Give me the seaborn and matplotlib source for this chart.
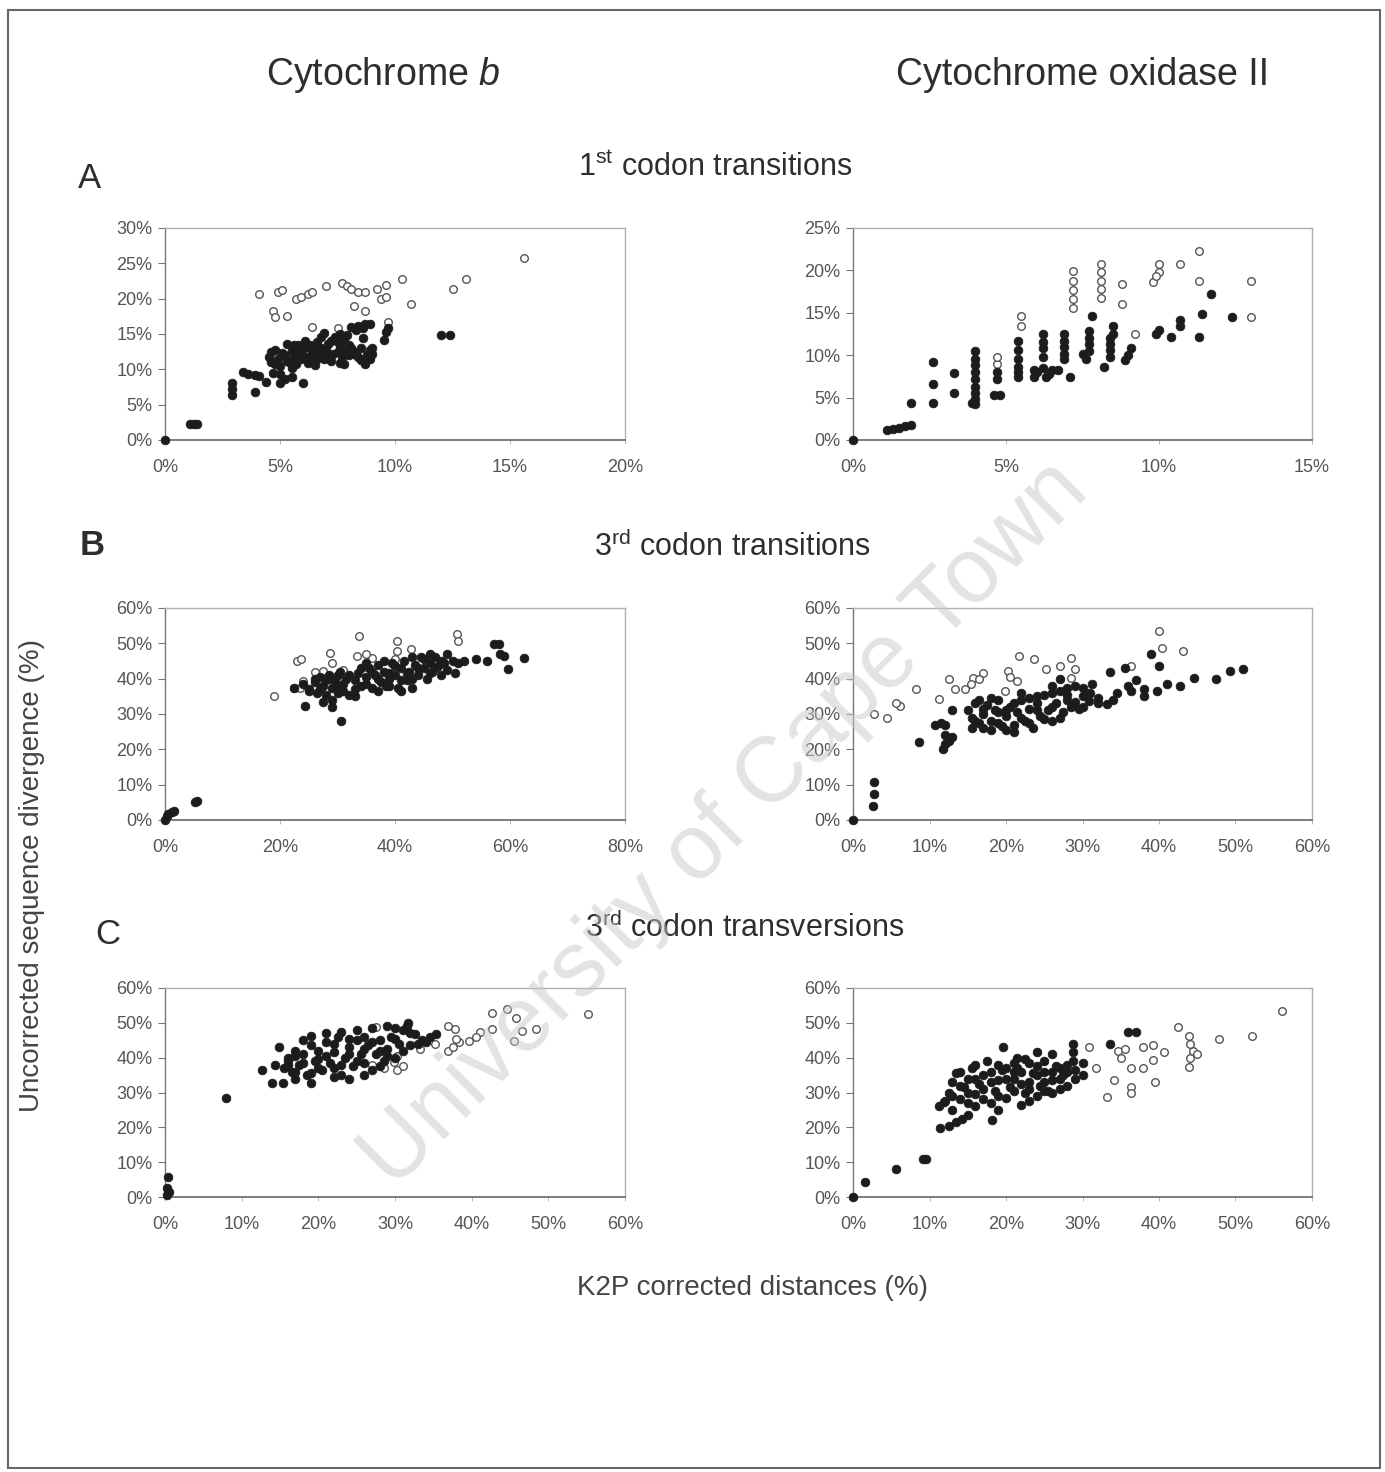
import numpy as np
import pandas as pd
import matplotlib
matplotlib.use("Agg")
import matplotlib.pyplot as plt
import seaborn as sns
from matplotlib.ticker import PercentFormatter, MultipleLocator
from matplotlib.patches import Rectangle

# ---------------- data (values in %) ----------------
# Panel A left: Cytochrome b, 1st codon transitions
cb1_fill_x = [0, 1.1, 1.25, 1.4, 2.9, 2.9, 2.9, 3.4, 3.6, 3.9, 4.1, 3.9, 4.4, 5.0, 5.0, 5.5, 6.0, 5.7,
              4.5, 4.6, 4.8, 4.9, 5.0, 5.2, 5.3, 5.4, 5.5, 5.6, 5.8, 5.9, 6.0, 6.1, 6.2, 6.3, 6.4, 6.5, 6.5,
              6.6, 6.7, 6.8, 6.9, 7.0, 7.1, 7.2, 7.3, 7.4, 7.5, 7.6, 7.7, 7.8, 7.8, 7.9, 8.0, 8.1, 8.2, 8.3,
              8.4, 8.5, 8.6, 8.7, 8.7, 8.8, 8.9, 9.0, 9.5, 9.6, 9.7, 12.0, 12.4, 5.2, 4.7,
              4.6, 4.8, 5.1, 5.3, 5.5, 5.6, 5.8, 6.0, 6.2, 6.3, 6.6, 6.8, 7.0, 7.2, 7.3, 7.5, 7.6, 7.8,
              8.0, 8.1, 8.3, 8.5, 8.6, 8.9, 9.0, 6.9, 7.6, 8.4, 8.9, 5.9]
cb1_fill_y = [0, 2.3, 2.3, 2.3, 6.3, 7.2, 8.0, 9.6, 9.4, 9.2, 9.0, 6.8, 8.2, 8.0, 9.4, 8.9, 8.0, 10.8,
              11.7, 11.0, 12.7, 11.5, 10.5, 12.0, 13.6, 11.0, 12.8, 13.5, 12.2, 11.4, 13.0, 14.0, 13.1, 11.8, 12.5, 12.7, 10.6,
              13.8, 12.0, 14.6, 11.5, 12.8, 13.6, 11.2, 14.2, 14.6, 12.4, 13.2, 11.8, 12.7, 10.8, 14.8, 13.5, 16.0, 12.2, 15.5,
              11.7, 13.0, 15.8, 16.4, 10.8, 12.0, 12.7, 13.0, 14.2, 15.3, 15.8, 14.8, 14.8, 8.6, 9.5,
              12.5, 10.8, 12.3, 11.2, 10.2, 11.9, 13.5, 12.0, 10.9, 13.4, 11.5, 13.0, 11.8, 14.0, 12.2, 13.8, 10.9, 14.2,
              12.0, 13.0, 12.5, 11.3, 14.5, 11.5, 12.2, 15.2, 15.0, 16.2, 16.4, 12.8]
cb1_open_x = [4.1, 4.9, 5.1, 5.7, 5.9, 6.2, 6.4, 7.0, 7.7, 7.9, 8.1, 8.4, 8.7, 9.2, 9.6, 9.4, 9.6, 10.3, 10.7,
              12.5, 13.1, 15.6, 4.7, 4.8, 5.3, 8.2, 8.7, 9.7, 6.4, 7.5]
cb1_open_y = [20.7, 21.0, 21.2, 20.0, 20.3, 20.6, 21.0, 21.8, 22.2, 21.8, 21.4, 21.0, 20.9, 21.4, 22.0, 20.0, 20.3, 22.8, 19.3,
              21.4, 22.8, 25.8, 18.3, 17.4, 17.5, 19.0, 18.3, 16.7, 16.0, 15.8]

# Panel A right: Cytochrome oxidase II, 1st codon transitions
co1_fill_x = [0, 1.1, 1.3, 1.5, 1.7, 1.9, 1.9, 2.6, 2.6, 2.6, 3.3, 3.3, 4.0, 4.0, 4.0, 4.0, 4.0, 4.0, 4.0, 4.0,
              3.9, 4.6, 4.8, 4.7, 4.7, 5.4, 5.4, 5.4, 5.4, 5.4, 5.9, 5.9, 6.2, 6.2, 6.2, 6.2, 6.3, 6.5, 6.7,
              6.9, 6.9, 6.9, 6.9, 7.1, 7.5, 7.6, 7.7, 7.7, 7.7, 7.8, 8.2, 8.4, 8.4, 8.4, 8.5, 8.5, 8.9, 9.0,
              9.1, 9.9, 10.0, 10.4, 10.7, 10.7, 11.3, 11.4, 11.7, 12.4,
              4.0, 5.4, 6.2, 6.0, 6.4, 6.9, 7.7, 8.4]
co1_fill_y = [0, 1.2, 1.3, 1.4, 1.6, 1.8, 4.4, 9.2, 6.6, 4.4, 5.5, 7.9, 4.2, 4.8, 5.5, 6.3, 7.2, 8.0, 8.8, 10.5,
              4.4, 5.3, 5.3, 8.0, 7.2, 7.4, 8.6, 9.6, 10.6, 11.7, 8.2, 7.4, 9.8, 10.8, 11.6, 12.5, 7.4, 8.2, 8.2,
              10.2, 11.0, 11.7, 12.5, 7.4, 10.2, 9.6, 11.3, 12.0, 12.9, 14.6, 8.6, 9.8, 11.3, 12.0, 12.5, 13.5, 9.4, 10.0,
              10.9, 12.5, 13.0, 12.1, 13.5, 14.1, 12.1, 14.8, 17.2, 14.5,
              9.6, 8.0, 8.5, 8.0, 7.8, 9.5, 10.5, 10.6]
co1_open_x = [5.5, 5.5, 4.7, 4.7, 7.2, 7.2, 7.2, 7.2, 7.2, 8.1, 8.1, 8.1, 8.1, 8.1, 8.8, 8.8, 9.2, 9.8, 10.0, 10.0,
              9.9, 10.7, 11.3, 11.3, 13.0, 13.0]
co1_open_y = [13.5, 14.6, 9.0, 9.8, 15.6, 16.6, 17.7, 18.8, 19.9, 16.8, 17.8, 18.8, 19.8, 20.7, 16.0, 18.4, 12.5, 18.6, 19.8, 20.7,
              19.3, 20.7, 22.3, 18.7, 18.7, 14.5]

# Panel B left: Cytochrome b, 3rd codon transitions
cb3s_fill_x = [0, 0.3, 0.6, 1.2, 1.5, 5.2, 5.6, 24.4, 29.0, 30.6,
               22.5, 24, 25, 26, 26.5, 27, 27.5, 28, 28.5, 29, 29.5, 30, 30.5, 31, 31.5, 32, 33, 33.5, 34, 35,
               35.5, 36, 36.5, 37, 37.5, 38, 38.5, 39, 39.5, 40, 40.5, 41, 41.5, 42, 42.5, 43, 43.5, 44, 44.5,
               45, 45.5, 46, 46.5, 47, 47.5, 48, 48.5, 49, 50, 50.5, 51, 52, 54, 56, 57.2, 58, 59, 59.6, 62.4, 58.2,
               27, 28, 29, 30, 31, 32, 33, 34, 35, 36, 37, 38, 39, 40, 41, 42, 43, 44, 45, 46, 47, 48, 49,
               37, 39, 41, 43, 33, 29, 27.5, 30, 35, 46, 25, 26]
cb3s_fill_y = [0, 1.0, 1.8, 2.2, 2.5, 5.0, 5.3, 32.3, 31.9, 28.1,
               37.5, 38.5, 37, 39, 36, 40.5, 38, 35.5, 41, 37.5, 39.5, 36, 42, 38.5, 40, 35.5, 39.5, 41.5, 38, 40.5,
               43, 37.5, 41, 44, 39, 42, 38, 40, 44.5, 41, 37.5, 43, 45, 39.5, 42, 37.5, 44, 41, 46,
               43, 40, 44.5, 42, 46, 43.5, 41, 44.5, 47, 45, 41.5, 44.5, 45, 45.5, 45, 49.7, 49.7, 46.4, 42.6, 45.9, 47,
               37, 39.5, 40, 38, 36.5, 41, 37, 43, 38.5, 42, 40, 45, 41.5, 43.5, 39.5, 41.5, 46, 43, 45.5, 41.5, 43, 45, 42.5,
               36.5, 38, 36.5, 40, 35, 34, 33.5, 41, 44.5, 47, 36.5, 40]
cb3s_open_x = [19, 23, 23.6, 24, 28.7, 29, 27.5, 33.7, 33.4, 36, 40.3, 40.3, 42.7, 50.8, 51, 22.5, 23.5, 26, 31, 35, 40]
cb3s_open_y = [35.1, 45, 45.5, 39.4, 47.3, 44.5, 42.2, 52, 46.4, 45.9, 50.8, 47.8, 48.3, 52.5, 50.6, 37.5, 37.5, 42, 42.5, 47, 45.5]

# Panel B right: Cytochrome oxidase II, 3rd codon transitions
co3s_fill_x = [0, 2.6, 2.8, 2.8, 8.6, 10.7, 11.5, 12, 11.7, 12, 12.5, 12.9, 13, 12,
               15, 15.5, 16, 16.5, 17, 17.5, 18, 18.5, 19, 19.5, 20, 20.5, 21, 21.5, 22, 22.5, 23, 23.5, 24,
               24.5, 25, 25.5, 26, 26.5, 27, 27.5, 28, 28.5, 29, 29.5, 30, 30.8, 31.3, 32, 33.2, 33.6, 34.5,
               35.5, 36.4, 37, 38, 39, 39.7, 40, 41, 42.8, 44.6, 47.4, 49.3, 51, 26, 27, 20, 17, 22,
               16, 17, 18, 19, 20, 21, 22, 23, 24, 25, 26, 27, 28, 29, 30, 31, 32, 18, 21, 24, 26, 28, 30,
               34, 36, 38, 16.5, 19, 23, 15.5]
co3s_fill_y = [0, 3.9, 7.5, 10.8, 22, 27, 27.5, 27, 20, 21.5, 22.5, 23.4, 31, 24,
               31, 29, 33, 27.5, 30, 32.5, 28, 31, 34, 26.5, 29.5, 32, 27, 30.5, 34, 28, 31.5, 26, 33,
               29.5, 35.5, 31, 28, 33, 36.5, 30.5, 34, 32, 38, 31.5, 35, 33.7, 38.4, 34.5, 32.8, 42, 36,
               43, 36.6, 39.5, 35, 46.9, 36.6, 43.6, 38.5, 38, 40.3, 39.8, 42.2, 42.6, 38, 40, 25.5, 26, 36,
               28, 31.5, 34.5, 27.5, 31, 33, 29, 27.5, 31, 28.5, 32, 29, 35.5, 33.5, 32, 36, 33, 25.5, 25, 35, 36, 37.5, 37.5,
               34, 38, 37, 34, 30.5, 34.5, 26]
co3s_open_x = [2.8, 4.4, 6.1, 5.6, 8.2, 11.2, 12.6, 13.3, 14.7, 15.7, 15.4, 17, 19.9, 20.3, 21.5, 21.7, 23.6, 25.2,
               27.1, 28.5, 28.5, 29, 36.4, 40, 40.4, 43.2, 16.5, 20.5]
co3s_open_y = [30, 29, 32.3, 33, 37, 34.2, 39.8, 37, 37, 40.3, 38.4, 41.7, 36.6, 42.2, 39.4, 46.4, 45.5, 42.6,
               43.6, 45.9, 40.3, 42.6, 43.6, 53.4, 48.7, 47.8, 40, 40.5]

# Panel C left: Cytochrome b, 3rd codon transversions
cb3v_fill_x = [0.3, 0.5, 0.2, 0.4, 8, 12.7, 14, 15.4, 14.3, 14.9, 19, 19,
               15.5, 16, 16.5, 17, 17.5, 18, 18.5, 19.5, 20, 20.5, 21, 21.5, 22, 22.5, 23, 23.5, 24, 24.5, 25,
               25.5, 26, 26.5, 27, 27.5, 28, 28.5, 29, 29.5, 30, 30.5, 31, 31.7, 32, 32.6, 33.5, 34.5, 35.4,
               22, 24, 26, 17, 16,
               16, 17, 18, 19, 20, 21, 22, 23, 24, 25, 26, 27, 28, 29, 30, 31, 32, 33, 34, 21, 23, 25, 27, 29,
               18, 20, 24, 26, 28, 22, 19, 17, 30, 31.5]
cb3v_fill_y = [0.5, 1.5, 2.5, 5.7, 28.4, 36.6, 32.8, 32.8, 38, 43, 46.3, 32.6,
               37, 39, 36, 40.5, 38, 41, 35, 39, 42, 36.5, 44.5, 38.5, 41.5, 46, 35, 40, 43, 37.5, 45,
               41, 38.5, 43.5, 36.5, 41, 45, 39, 42.5, 46, 40, 44, 48, 50, 43.5, 46.8, 45, 46, 46.8,
               34.5, 34, 35, 36, 40,
               38, 42, 38.5, 43.5, 37, 40.5, 44, 38, 41, 39, 42.5, 44.5, 37.5, 40.5, 45.5, 42, 47, 44, 44.5, 47, 47.5, 48, 48.5, 49,
               45, 39.5, 45.5, 46, 42, 37, 35.5, 34, 48.5, 49]
cb3v_open_x = [27.5, 30.3, 30.3, 29.9, 31, 28.5, 27, 33.3, 35.2, 36.9, 37.8, 36.9, 38.3, 39.7, 41.1, 42.6, 42.7,
               44.6, 45.8, 46.5, 45.5, 48.4, 55.2, 37.5, 38, 40.5]
cb3v_open_y = [48.7, 40.6, 36.4, 38.7, 37.5, 37, 38, 42.5, 44, 49.1, 48.2, 42, 44.4, 44.9, 47.3, 48.2, 52.9,
               53.9, 51.5, 47.7, 44.9, 48.2, 52.5, 43, 45.5, 46]

# Panel C right: Cytochrome oxidase II, 3rd codon transversions
co3v_fill_x = [0, 1.6, 5.6, 9.1, 9.5, 11.2, 11.9, 11.4, 12.5, 13.5, 14.2, 15, 18.2, 19.6, 21.5, 22.5, 24, 26,
               28.7, 28.7, 28.7, 33.6, 36, 37, 30,
               12.5, 13, 13.5, 14, 14.5, 15, 15.5, 16, 16.5, 17, 17.5, 18, 18.5, 19, 19.5, 20, 20.5, 21, 21.5,
               22, 22.5, 23, 23.5, 24, 24.5, 25, 25.5, 26, 26.5, 27, 27.5, 28, 29, 30, 16, 19, 21, 13, 25, 23,
               13, 14, 15, 16, 17, 18, 19, 20, 21, 22, 23, 24, 25, 26, 27, 28, 15, 17, 19, 21, 23, 25, 27, 29,
               14, 16, 18, 20, 22, 24, 26, 12, 28]
co3v_fill_y = [0, 4.3, 8, 10.9, 11, 26, 27.4, 19.8, 20.5, 21.5, 22.5, 23.6, 22.2, 43, 40, 39.5, 41.6, 41,
               39, 41.5, 44, 44, 47.3, 47.3, 35,
               30, 33, 35.5, 28, 31.5, 34, 37, 29.5, 32.5, 35, 39, 27, 30.5, 33.5, 36.5, 28.5, 31.5, 34, 37,
               26.5, 30, 33, 35.5, 29, 32, 36, 30.5, 33.5, 37.5, 31, 35, 38, 36.5, 38.5, 26, 25, 38.5, 25, 39, 27.5,
               29, 32, 30, 34, 31, 36, 29, 34, 30.5, 36, 31, 35, 33, 30, 34, 32, 27, 28, 38, 36, 38.5, 30.5, 37, 34,
               36, 38, 33, 37, 32.5, 37.5, 36, 27.5, 36]
co3v_open_x = [30.8, 31.8, 33.2, 34.1, 34.6, 35.5, 36.4, 36.4, 36.4, 37.9, 37.9, 39.2, 39.2, 39.5, 40.6, 42.5,
               43.9, 43.9, 44, 44.5, 45, 47.9, 52.1, 56.1, 35, 44]
co3v_open_y = [43, 36.9, 28.8, 33.6, 42, 42.5, 36.9, 31.7, 29.8, 36.9, 43, 43.5, 39.2, 33, 41.6, 48.7,
               46.3, 37.3, 40, 42, 41, 45.4, 46.3, 53.4, 40, 44]

panels = [
    # (row, col, fill_x, fill_y, open_x, open_y, xmax, xstep, ymax, ystep)
    (0, 0, cb1_fill_x, cb1_fill_y, cb1_open_x, cb1_open_y, 20, 5, 30, 5),
    (0, 1, co1_fill_x, co1_fill_y, co1_open_x, co1_open_y, 15, 5, 25, 5),
    (1, 0, cb3s_fill_x, cb3s_fill_y, cb3s_open_x, cb3s_open_y, 80, 20, 60, 10),
    (1, 1, co3s_fill_x, co3s_fill_y, co3s_open_x, co3s_open_y, 60, 10, 60, 10),
    (2, 0, cb3v_fill_x, cb3v_fill_y, cb3v_open_x, cb3v_open_y, 60, 10, 60, 10),
    (2, 1, co3v_fill_x, co3v_fill_y, co3v_open_x, co3v_open_y, 60, 10, 60, 10),
]

# ---------------- style ----------------
sns.set_theme(style="white")
plt.rcParams['font.family'] = ['Liberation Sans', 'DejaVu Sans']
plt.rcParams['mathtext.fontset'] = 'custom'
plt.rcParams['mathtext.rm'] = 'Liberation Sans'
plt.rcParams['mathtext.it'] = 'Liberation Sans:italic'

W, H = 1385, 1472
fig = plt.figure(figsize=(W / 100, H / 100), dpi=100)
fig.patch.set_facecolor('white')

col_left = [165, 853]
col_right = [625, 1312]
row_top = [228, 608, 988]
row_bot = [440, 820, 1197]

txt_col = '#2e2e2e'
tick_col = '#555555'

for (r, c, fx, fy, ox, oy, xmax, xstep, ymax, ystep) in panels:
    l, rr = col_left[c], col_right[c]
    t, b = row_top[r], row_bot[r]
    ax = fig.add_axes([l / W, 1 - b / H, (rr - l) / W, (b - t) / H])
    df_f = pd.DataFrame({'x': fx, 'y': fy})
    df_o = pd.DataFrame({'x': ox, 'y': oy})
    sns.scatterplot(data=df_o, x='x', y='y', ax=ax, s=30, marker='o',
                    facecolor='white', edgecolor='#555555', linewidth=1.0, clip_on=False, zorder=3)
    sns.scatterplot(data=df_f, x='x', y='y', ax=ax, s=40, marker='o',
                    color='#1c1c1c', edgecolor='#1c1c1c', linewidth=0.5, clip_on=False, zorder=4)
    ax.set_xlim(0, xmax)
    ax.set_ylim(0, ymax)
    ax.xaxis.set_major_locator(MultipleLocator(xstep))
    ax.yaxis.set_major_locator(MultipleLocator(ystep))
    ax.xaxis.set_major_formatter(PercentFormatter(decimals=0))
    ax.yaxis.set_major_formatter(PercentFormatter(decimals=0))
    ax.set_xlabel('')
    ax.set_ylabel('')
    for side in ['top', 'right']:
        ax.spines[side].set_visible(True)
        ax.spines[side].set_color('#b0b0b0')
        ax.spines[side].set_linewidth(1.0)
    ax.spines['left'].set_color('#777777')
    ax.spines['left'].set_linewidth(1.0)
    ax.spines['bottom'].set_color('#666666')
    ax.spines['bottom'].set_linewidth(1.2)
    ax.tick_params(axis='y', which='major', direction='out', length=5, width=0.8,
                   color='#777777', labelsize=13, labelcolor=tick_col, pad=4, left=True)
    ax.tick_params(axis='x', which='major', direction='out', length=3, width=0.6,
                   color='#aaaaaa', labelsize=13, labelcolor=tick_col, pad=11, bottom=True)
    ax.grid(False)
    ax.set_facecolor('white')

# ---------------- texts ----------------
fig.text(383 / W, 1 - 75 / H, r'Cytochrome $\mathit{b}$', ha='center', va='center',
         fontsize=27, color=txt_col)
fig.text(1083 / W, 1 - 75 / H, 'Cytochrome oxidase II', ha='center', va='center',
         fontsize=27, color=txt_col)

fig.text(90 / W, 1 - 178 / H, 'A', ha='center', va='center', fontsize=25, color=txt_col)
fig.text(92 / W, 1 - 545 / H, 'B', ha='center', va='center', fontsize=25, color=txt_col, fontweight='bold')
fig.text(108 / W, 1 - 935 / H, 'C', ha='center', va='center', fontsize=25, color=txt_col)

fig.text(715 / W, 1 - 168 / H, r'1$^{\mathregular{st}}$ codon transitions', ha='center', va='center',
         fontsize=22, color=txt_col)
fig.text(733 / W, 1 - 547 / H, r'3$^{\mathregular{rd}}$ codon transitions', ha='center', va='center',
         fontsize=22, color=txt_col)
fig.text(745 / W, 1 - 928 / H, r'3$^{\mathregular{rd}}$ codon transversions', ha='center', va='center',
         fontsize=22, color=txt_col)

fig.text(752 / W, 1 - 1288 / H, 'K2P corrected distances (%)', ha='center', va='center',
         fontsize=20, color='#444444')
fig.text(32 / W, 1 - 875 / H, 'Uncorrected sequence divergence (%)', ha='center', va='center',
         rotation=90, fontsize=20, color='#444444')

# watermark
fig.text(725 / W, 1 - 825 / H, 'University of Cape Town', ha='center', va='center',
         rotation=45, fontsize=66, color='#c8c8c8', alpha=0.5, zorder=10)

# outer frame
fig.patches.append(Rectangle((8 / W, 4 / H), (1380 - 8) / W, (1466 - 8) / H,
                             transform=fig.transFigure, fill=False, edgecolor='#666666',
                             linewidth=1.5, zorder=0))

fig.savefig('out.png', dpi=100, facecolor='white')
